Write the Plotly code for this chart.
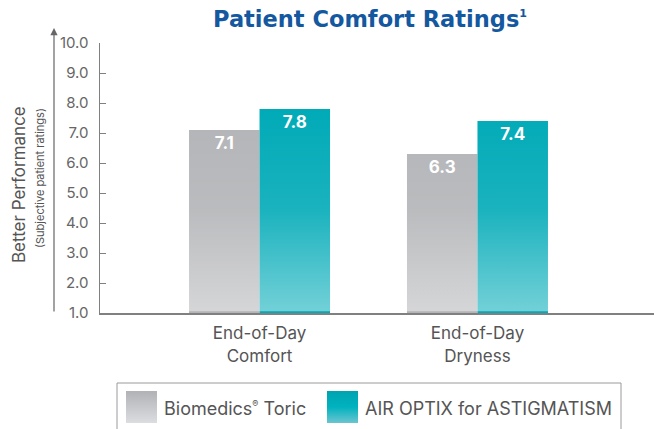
import base64

import plotly.graph_objects as go

categories = ["End-of-Day<br>Comfort", "End-of-Day<br>Dryness"]
series_names = ["Biomedics<sup><span style='font-size:9px'>®</span></sup> Toric", "AIR OPTIX for ASTIGMATISM"]
biomedics = [7.1, 6.3]
air_optix = [7.8, 7.4]
y_ticks = [1, 2, 3, 4, 5, 6, 7, 8, 9, 10]

FONT = "Inter, Liberation Sans, Arial, sans-serif"
TITLE_FONT = "DejaVu Sans, Liberation Sans, sans-serif"
W, H = 654, 429
L, R, T, B = 100, 0, 43, 116
PW, PH = W - L - R, H - T - B


def px(x):
    """pixel x -> paper x"""
    return (x - L) / PW


def py(y):
    """pixel y -> paper y"""
    return (H - B - y) / PH


def svg_gradient(stops):
    s = "".join(f'<stop offset="{o}" stop-color="{c}" stop-opacity="{a}"/>' for o, c, a in stops)
    svg = (
        '<svg xmlns="http://www.w3.org/2000/svg" width="10" height="100" preserveAspectRatio="none">'
        f'<defs><linearGradient id="g" x1="0" y1="0" x2="0" y2="1">{s}</linearGradient></defs>'
        '<rect width="10" height="100" fill="url(#g)"/></svg>'
    )
    return "data:image/svg+xml;base64," + base64.b64encode(svg.encode()).decode()


gray_swatch = svg_gradient([(0, "#b1b2b5", 1), (1, "#dcdde0", 1)])
teal_swatch = svg_gradient([(0, "#00a3b0", 1), (0.5, "#00b2bf", 1), (1, "#6cc5d0", 1)])
# white wash that lightens the lower part of the bars (invisible on the white background)
bar_shade = svg_gradient([(0, "#ffffff", 0.0), (0.5, "#ffffff", 0.1), (1, "#ffffff", 0.45)])

fig = go.Figure()
fig.add_trace(go.Bar(
    x=categories, y=biomedics, name="Biomedics Toric",
    marker=dict(color="#b3b4b7", line=dict(width=0)),
    text=[f"{v:.1f}" for v in biomedics],
))
fig.add_trace(go.Bar(
    x=categories, y=air_optix, name="AIR OPTIX for ASTIGMATISM",
    marker=dict(color="#00aab7", line=dict(width=0)),
    text=[f"{v:.1f}" for v in air_optix],
))
fig.update_traces(
    textposition="inside", insidetextanchor="end",
    textfont=dict(family=FONT, size=17, color="white", weight="bold"),
    showlegend=False, hoverinfo="skip",
)

images = [
    dict(source=bar_shade, xref="paper", yref="y", x=px(170), y=7.9, sizex=px(570) - px(170),
         sizey=6.85, xanchor="left", yanchor="top", sizing="stretch", layer="above"),
    dict(source=gray_swatch, xref="paper", yref="paper", x=px(126), y=py(391),
         sizex=31 / PW, sizey=32 / PH, xanchor="left", yanchor="top", sizing="stretch", layer="above"),
    dict(source=teal_swatch, xref="paper", yref="paper", x=px(327), y=py(391),
         sizex=31 / PW, sizey=32 / PH, xanchor="left", yanchor="top", sizing="stretch", layer="above"),
]

annotations = [
    dict(text="Better Performance", textangle=-90, xref="paper", yref="paper",
         x=px(19), y=py(185), showarrow=False, xanchor="center", yanchor="middle",
         font=dict(family=FONT, size=17, color="#555555")),
    dict(text="(Subjective patient ratings)", textangle=-90, xref="paper", yref="paper",
         x=px(40), y=py(178), showarrow=False, xanchor="center", yanchor="middle",
         font=dict(family=FONT, size=11, color="#555555")),
    dict(text="", xref="paper", yref="paper", x=px(54), y=py(28), ax=0, ay=285,
         showarrow=True, arrowhead=2, arrowsize=1.2, arrowwidth=1.2, arrowcolor="#666666"),
    dict(text=series_names[0], xref="paper", yref="paper", x=px(162), y=py(408),
         xanchor="left", yanchor="middle", showarrow=False,
         font=dict(family=FONT, size=18, color="#555555")),
    dict(text=series_names[1], xref="paper", yref="paper", x=px(363), y=py(408),
         xanchor="left", yanchor="middle", showarrow=False,
         font=dict(family=FONT, size=18, color="#555555")),
]

shapes = [
    dict(type="rect", xref="paper", yref="paper", x0=px(117), x1=px(621), y0=py(440), y1=py(383),
         line=dict(color="#9a9a9a", width=1), fillcolor="rgba(0,0,0,0)"),
]

fig.update_layout(
    width=W, height=H,
    margin=dict(l=L, r=R, t=T, b=B, autoexpand=False),
    paper_bgcolor="white", plot_bgcolor="white",
    barmode="group", bargap=0.353, bargroupgap=0,
    title=dict(text="Patient Comfort Ratings<sup><span style='font-size:11px'>1</span></sup>",
               x=370 / W, xanchor="center", y=1 - 19 / H, yanchor="middle",
               font=dict(family=TITLE_FONT, size=22.5, color="#14589f", weight="bold")),
    xaxis=dict(range=[-0.732, 1.81], showline=True, linecolor="#808080", linewidth=2,
               ticks="", showgrid=False, zeroline=False, automargin=False, ticklabelstandoff=4,
               tickfont=dict(family=FONT, size=17, color="#555555")),
    yaxis=dict(range=[1, 10], tickvals=y_ticks, tickformat=".1f", ticks="inside", ticklen=6,
               tickcolor="#808080", showline=True, linecolor="#808080", linewidth=1.5,
               showgrid=False, zeroline=False, ticklabelstandoff=7, automargin=False,
               tickfont=dict(family=FONT, size=15, color="#666666")),
    images=images, annotations=annotations, shapes=shapes,
    showlegend=False,
)

# the page's default body margin would push the chart 8px off the window
fig.write_html(
    "out.html",
    config={"displayModeBar": False, "staticPlot": True},
    post_script="document.body.style.margin = '0';",
)
